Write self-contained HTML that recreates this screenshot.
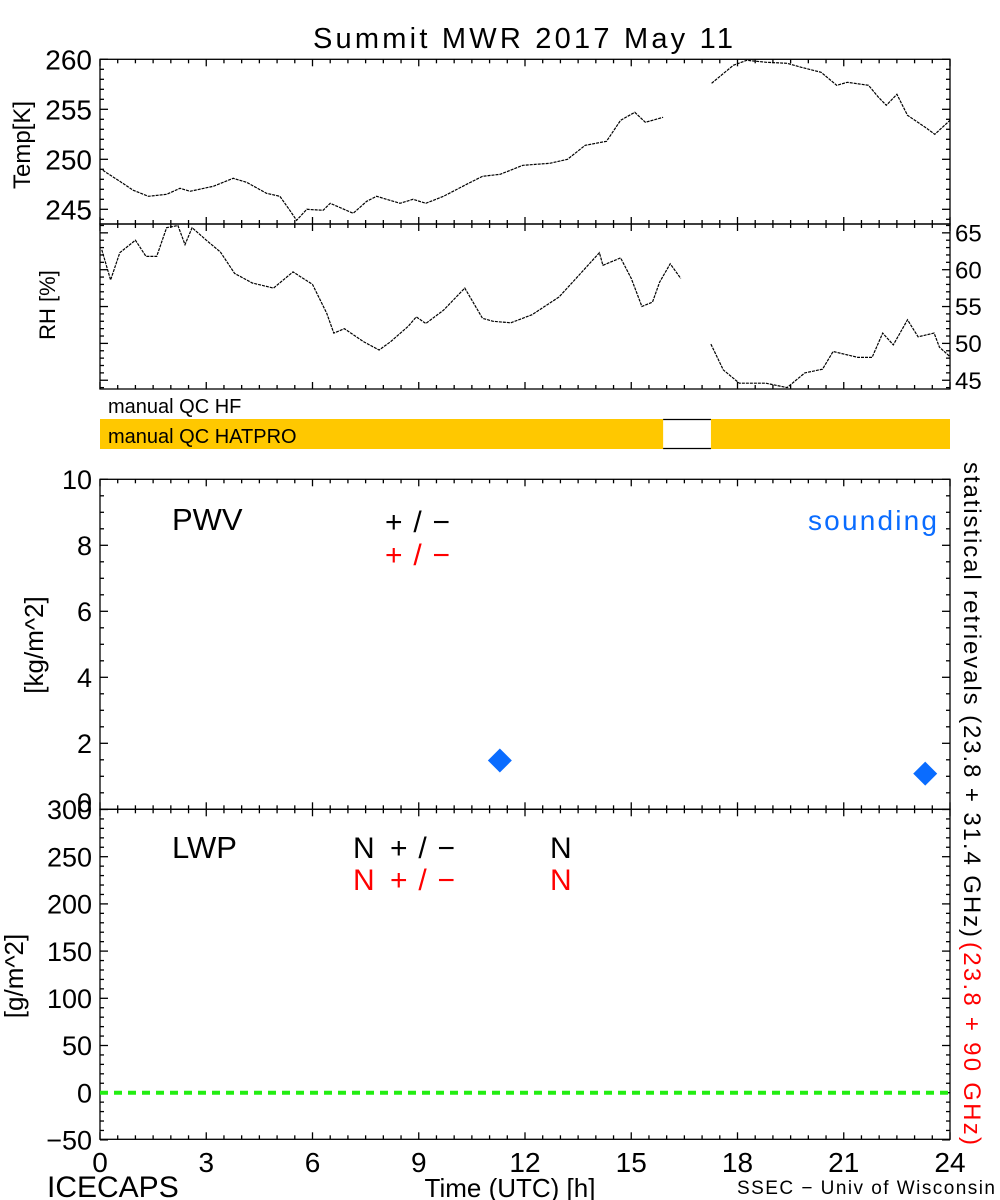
<!DOCTYPE html>
<html><head><meta charset="utf-8"><title>Summit MWR 2017 May 11</title>
<style>
html,body{margin:0;padding:0;background:#fff;}
svg{display:block;font-family:"Liberation Sans",sans-serif;}
</style></head>
<body>
<svg id="chart" width="1000" height="1200" viewBox="0 0 1000 1200" xmlns="http://www.w3.org/2000/svg">
<text x="313" y="48" font-size="29" textLength="420" lengthAdjust="spacing">Summit MWR 2017 May 11</text>
<g id="axes"></g>
<g id="marks"></g>
</svg>
<script>
// ---- data ----
const tempHours = [0.08,0.56,0.94,1.37,1.88,2.26,2.54,3.2,3.76,4.14,4.7,5.08,5.36,5.55,5.84,6.3,6.5,7.15,7.53,7.81,8.47,8.84,9.2,9.7,10.35,10.8,11.3,11.94,12.7,13.2,13.7,14.3,14.7,15.1,15.4,15.9,null,17.27,17.88,18.26,18.82,19.4,19.8,20.36,20.8,21.1,21.7,21.98,22.2,22.5,22.8,23.3,23.57,24];
const tempValues = [248.9,247.8,246.9,246.3,246.5,247.1,246.8,247.3,248.1,247.7,246.6,246.3,244.9,243.9,245.0,244.9,245.6,244.6,245.8,246.3,245.6,246.0,245.6,246.3,247.5,248.3,248.5,249.4,249.6,250.0,251.4,251.8,253.9,254.7,253.7,254.2,null,257.6,259.4,259.9,259.7,259.6,259.2,258.7,257.4,257.7,257.4,256.2,255.4,256.5,254.4,253.2,252.5,253.9];
const rhHours = [0.05,0.3,0.56,1.0,1.3,1.6,1.88,2.2,2.4,2.6,3.0,3.4,3.8,4.3,4.9,5.45,6.0,6.4,6.6,6.9,7.45,7.88,8.2,8.7,8.93,9.2,9.7,10.3,10.8,11.1,11.6,12.2,12.96,13.4,14.1,14.2,14.7,15.0,15.3,15.6,15.8,16.1,16.4,null,17.25,17.6,18.05,18.8,19.4,19.9,20.4,20.7,21.4,21.8,22.1,22.4,22.8,23.1,23.55,23.7,24];
const rhValues = [62.7,58.6,62.3,64.0,61.8,61.8,65.7,66.0,63.4,65.7,64.0,62.4,59.5,58.2,57.5,59.7,58.0,54.1,51.4,52.0,50.2,49.1,50.2,52.3,53.6,52.7,54.5,57.5,53.4,53.0,52.8,53.9,56.3,58.6,62.3,60.6,61.6,58.8,55.0,55.6,58.3,60.8,58.8,null,49.9,46.4,44.6,44.6,44.0,46.0,46.5,48.9,48.1,48.1,51.4,49.8,53.2,50.9,51.4,49.5,48.2];
const soundingHours = [11.29, 23.3];
const soundingPWV = [1.48, 1.08];
const lwpZeroLine = [0];
const xTicks = [0,3,6,9,12,15,18,21,24];
const tempTicks = [245,250,255,260];
const rhTicks = [45,50,55,60,65];
const pwvTicks = [0,2,4,6,8,10];
const lwpTicks = [-50,0,50,100,150,200,250,300];
const qcGapHours = [15.9, 17.25];

// ---- scales ----
const X0=100, X1=950;
const xs = h => X0 + h/24*(X1-X0);
const tY = v => 59.3 + (260-v)*10;
const rY = v => 224 + (66.2-v)*7.37;
const pY = v => 809.3 - v*33;
const lY = v => 1092.7 - v*0.944;

const NS="http://www.w3.org/2000/svg";
const axes=document.getElementById('axes'), marks=document.getElementById('marks');
function mk(tag, attrs, parent){const e=document.createElementNS(NS,tag);for(const k in attrs)e.setAttribute(k,attrs[k]);parent.appendChild(e);return e;}
function line(x1,y1,x2,y2,p,c,w){return mk('line',{x1,y1,x2,y2,stroke:c||'#000','stroke-width':w||1.3},p);}

const panels=[[59.3,224],[224,389],[479.3,809.3],[809.3,1139.3]];
const panelNames=['temp-panel','rh-panel','pwv-panel','lwp-panel'];
panels.forEach((p,i)=>{
  const r=mk('rect',{x:X0,y:p[0],width:X1-X0,height:p[1]-p[0],fill:'none',stroke:'#000','stroke-width':1.3},axes);
  
  
  for(let h=0;h<=24;h+=0.5){
    const major=(h%3===0), L=major?7:4;
    line(xs(h),p[1],xs(h),p[1]-L,axes);
    line(xs(h),p[0],xs(h),p[0]+L,axes);
  }
});
function yt(ticks,minor,sc,lo,hi,labels,side,fs,dy){
  for(let v=lo; v<=hi+1e-9; v+=minor){
    const y=sc(v); const major=ticks.some(t=>Math.abs(t-v)<1e-6); const L=major?8:4;
    line(X0,y,X0+L,y,axes); line(X1,y,X1-L,y,axes);
  }
  if(labels) ticks.forEach(t=>{
    let off=fs*0.36; if(dy && t===ticks[0]) off+=dy;
    const tx=mk('text',{x:side==='r'?955:92,y:sc(t)+off,'font-size':fs,'text-anchor':side==='r'?'start':'end'},axes);
    tx.textContent=t<0?'\u2212'+(-t):String(t);
    
    
  });
}
yt(tempTicks,1,tY,244,260,true,'l',28);
yt(rhTicks,1,rY,44,66,true,'r',24);
yt(pwvTicks,0.5,pY,0,10,true,'l',27,-7);
yt(lwpTicks,10,lY,-50,300,true,'l',27);

xTicks.forEach(h=>{
  const t=mk('text',{x:xs(h),y:1172,'font-size':28,'text-anchor':'middle'},axes);
  t.textContent=String(h);
  
  
});

function series(hs,vs,sc,name){
  let pts=[];
  const flush=()=>{ if(pts.length>1){ const pl=mk('polyline',{points:pts.join(' '),fill:'none',stroke:'#000','stroke-width':1.2,'stroke-dasharray':'3 1'},marks);
    
     } pts=[]; };
  hs.forEach((h,i)=>{ if(h===null||vs[i]===null){flush();return;} pts.push(xs(h).toFixed(1)+','+sc(vs[i]).toFixed(1)); });
  flush();
}
series(tempHours,tempValues,tY,'temp-line');
series(rhHours,rhValues,rY,'rh-line');

const qb1=mk('rect',{x:X0,y:419,width:xs(qcGapHours[0])-X0,height:30,fill:'#ffc800'},marks);


const qb2=mk('rect',{x:xs(qcGapHours[1]),y:419,width:X1-xs(qcGapHours[1]),height:30,fill:'#ffc800'},marks);


line(xs(qcGapHours[0]),419.5,xs(qcGapHours[1]),419.5,marks,'#000',1.2);
line(xs(qcGapHours[0]),448.5,xs(qcGapHours[1]),448.5,marks,'#000',1.2);

soundingHours.forEach((h,i)=>{
  const x=xs(h), y=pY(soundingPWV[i]), s=12;
  const d=mk('polygon',{points:`${x},${y-s} ${x+s},${y} ${x},${y+s} ${x-s},${y}`,fill:'#0a6cff'},marks);
  
  
});

lwpZeroLine.forEach(v=>{
  const g=mk('line',{x1:X0,y1:lY(v),x2:X1,y2:lY(v),stroke:'#22ee11','stroke-width':4,'stroke-dasharray':'8 6'},marks);
  
  
});
</script>
<div style="position:absolute;left:0;top:0;width:1000px;height:1200px;pointer-events:none">
<svg width="1000" height="1200" style="font-family:'Liberation Sans',sans-serif">
<text transform="translate(30,145) rotate(-90)" font-size="24" text-anchor="middle">Temp[K]</text>
<text transform="translate(55,305) rotate(-90)" font-size="22" text-anchor="middle">RH [%]</text>
<text x="108" y="413" font-size="20">manual QC HF</text>
<text x="108" y="443" font-size="20">manual QC HATPRO</text>
<text transform="translate(43,645) rotate(-90)" font-size="26" text-anchor="middle">[kg/m^2]</text>
<text transform="translate(23,976) rotate(-90)" font-size="26" text-anchor="middle">[g/m^2]</text>
<text x="172" y="530" font-size="31">PWV</text>
<text x="385" y="532" font-size="30" textLength="65" lengthAdjust="spacing">+/−</text>
<text x="385" y="565" font-size="30" fill="#ff0000" textLength="65" lengthAdjust="spacing">+/−</text>
<text x="808" y="530" font-size="28" fill="#0a6cff" textLength="129" lengthAdjust="spacing">sounding</text>
<text x="172" y="858" font-size="31">LWP</text>
<text x="353" y="858" font-size="30">N</text>
<text x="390" y="858" font-size="30" textLength="65" lengthAdjust="spacing">+/−</text>
<text x="353" y="890" font-size="30" fill="#ff0000">N</text>
<text x="390" y="890" font-size="30" fill="#ff0000" textLength="65" lengthAdjust="spacing">+/−</text>
<text x="550" y="858" font-size="30">N</text>
<text x="550" y="890" font-size="30" fill="#ff0000">N</text>
<text transform="translate(964,462) rotate(90)" font-size="24" textLength="475" lengthAdjust="spacing">statistical retrievals (23.8 + 31.4 GHz)</text>
<text transform="translate(964,942) rotate(90)" font-size="24" fill="#ff0000" textLength="203" lengthAdjust="spacing">(23.8 + 90 GHz)</text>
<text x="47" y="1197" font-size="30">ICECAPS</text>
<text x="510" y="1197" font-size="26" text-anchor="middle">Time (UTC) [h]</text>
<text x="737" y="1194" font-size="19" textLength="258" lengthAdjust="spacing">SSEC − Univ of Wisconsin</text>
</svg></div>
</body></html>
